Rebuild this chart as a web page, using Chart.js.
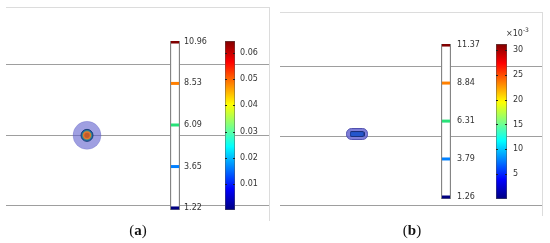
<!DOCTYPE html>
<html><head><meta charset="utf-8">
<script src="https://cdn.jsdelivr.net/npm/chart.js@4/dist/chart.umd.min.js"></script>
<style>
html,body{margin:0;padding:0;background:#fff;}
#wrap{position:relative;width:550px;height:243px;overflow:hidden;background:#fff;}
canvas{position:absolute;}
.cap{position:absolute;top:222px;width:40px;text-align:center;font:15px/17px "Liberation Serif",serif;color:#111;}
.exp{position:absolute;left:506px;top:28px;font:8px/12px "DejaVu Sans",sans-serif;color:#333;white-space:nowrap;}
.exp sup{font-size:6px;vertical-align:baseline;position:relative;top:-4px;}
</style></head><body>
<div id="wrap">
  <canvas id="mainA" width="275" height="225" style="left:0;top:0"></canvas>
  <canvas id="mainB" width="275" height="225" style="left:275px;top:0"></canvas>
  <canvas id="levA" width="60" height="190" style="left:160px;top:30px"></canvas>
  <canvas id="cbA" width="55" height="190" style="left:215px;top:30px"></canvas>
  <canvas id="levB" width="60" height="175" style="left:431px;top:34px"></canvas>
  <canvas id="cbB" width="50" height="175" style="left:486px;top:34px"></canvas>
  <div class="cap" style="left:118px">(<b>a</b>)</div>
  <div class="cap" style="left:392px">(<b>b</b>)</div>
  <div class="exp">×10<sup>-3</sup></div>
</div>
<script>
// ---------------- data ----------------
const guideLines = [1, 2, 3];                 // horizontal reference lines (domain units)
const domainRangeA = [0.80, 3.82];
const domainRangeB = [0.87, 3.79];
const blobA = [{x: 0.308, y: 2}];            // particle position, panel (a)
const blobB = [{x: 0.294, y: 2.035}];        // particle position, panel (b)
const levelsA = [1.22, 3.65, 6.09, 8.53, 10.96];
const levelsB = [1.26, 3.79, 6.31, 8.84, 11.37];
const levelRangeA = [1.10, 11.02];
const levelRangeB = [1.127, 11.44];
const colorTicksA = [0.01, 0.02, 0.03, 0.04, 0.05, 0.06];
const colorRangeA = [0, 0.0646];
const colorTicksB = [5, 10, 15, 20, 25, 30];  // ×10^-3
const colorRangeB = [0, 31.2];

// ---------------- helpers ----------------
Chart.defaults.animation = false;
Chart.defaults.font.family = '"DejaVu Sans", sans-serif';
Chart.defaults.font.size = 8;
Chart.defaults.color = '#333';
Chart.defaults.plugins.legend.display = false;
Chart.defaults.plugins.tooltip.enabled = false;

function clamp(v){ return Math.max(0, Math.min(1, v)); }
function jet(t){
  const r = clamp(1.5 - Math.abs(4*t - 3));
  const g = clamp(1.5 - Math.abs(4*t - 2));
  const b = clamp(1.5 - Math.abs(4*t - 1));
  return `rgb(${Math.round(r*255)},${Math.round(g*255)},${Math.round(b*255)})`;
}
function levelColor(t){
  // contour level colours (slightly more saturated in the middle)
  if (Math.abs(t - 0.5) < 0.01) return 'rgb(40,225,120)';
  return jet(t);
}
function shapeImg(w, h, rad, fill, stroke, lw){
  const c = document.createElement('canvas');
  c.width = w; c.height = h;
  const x = c.getContext('2d');
  x.beginPath();
  x.roundRect(lw/2, lw/2, w - lw, h - lw, rad);
  x.fillStyle = fill; x.fill();
  x.lineWidth = lw; x.strokeStyle = stroke; x.stroke();
  return c;
}

function mainChart(id, range, blob, pad, layers){
  return new Chart(document.getElementById(id), {
    type: 'scatter',
    data: { datasets: layers.map((l, i) => Object.assign({ data: blob, order: 10 - i, clip: false }, l)) },
    options: {
      responsive: false,
      layout: { padding: pad, autoPadding: false },
      scales: {
        x: { type: 'linear', position: 'top', min: 0, max: 1,
             ticks: { display: false }, grid: { display: false, drawTicks: false },
             border: { display: true, color: '#dcdcdc', width: 1 },
             afterFit: s => { s.height = 0; s.paddingLeft = s.paddingRight = 0; } },
        y: { type: 'linear', position: 'right', min: range[0], max: range[1],
             afterBuildTicks: s => { s.ticks = guideLines.map(v => ({ value: v })); },
             ticks: { display: false },
             grid: { color: '#9e9e9e', lineWidth: 1, drawTicks: false },
             border: { display: true, color: '#dcdcdc', width: 1 },
             afterFit: s => { s.width = 0; s.paddingTop = s.paddingBottom = 0; } }
      }
    }
  });
}

mainChart('mainA', domainRangeA, blobA, { left: 6, top: 7, right: 6, bottom: 5 }, [
  { pointRadius: 14, backgroundColor: 'rgba(95,95,205,0.6)', borderColor: 'rgba(90,90,190,0.5)', borderWidth: 0.5 },
  { pointRadius: 6, backgroundColor: '#1f5ea6', borderColor: '#1a3f7a', borderWidth: 1 },
  { pointRadius: 4.6, backgroundColor: '#e2772e', borderColor: '#2a9a8a', borderWidth: 0.8 },
  { pointRadius: 2.6, backgroundColor: '#c25a2a', borderColor: '#c25a2a', borderWidth: 0 }
]);

mainChart('mainB', domainRangeB, blobB, { left: 5, top: 12, right: 8, bottom: 10 }, [
  { pointStyle: shapeImg(22, 12, 5, 'rgba(105,105,210,0.85)', 'rgba(70,70,170,0.9)', 1), pointRadius: 11 },
  { pointStyle: shapeImg(15, 6, 1.5, '#2456cc', '#1b2f7a', 1), pointRadius: 7 }
]);

function levelBar(id, levels, range, pad, axisW, labelPad){
  const lo = levels[0], hi = levels[levels.length - 1];
  return new Chart(document.getElementById(id), {
    type: 'bar',
    data: { labels: ['L'], datasets: [
      { type: 'line', data: levels.map(v => ({ x: 'L', y: v })), showLine: false,
        pointStyle: 'line', pointRadius: 4, pointBorderWidth: 3,
        pointBorderColor: levels.map(v => levelColor((v - lo) / (hi - lo))), clip: 0, order: 0 },
      { type: 'bar', data: [[range[0], range[1]]], backgroundColor: '#fff',
        borderColor: '#858585', borderWidth: 1.5, borderSkipped: false,
        barPercentage: 1, categoryPercentage: 1, order: 1 }
    ]},
    options: {
      responsive: false,
      layout: { padding: pad, autoPadding: false },
      scales: {
        x: { display: false },
        y: { position: 'right', min: range[0], max: range[1],
             afterBuildTicks: s => { s.ticks = levels.map(v => ({ value: v })); },
             ticks: { padding: labelPad, callback: v => Number(v).toFixed(2) },
             grid: { display: false, drawTicks: false }, border: { display: false },
             afterFit: s => { s.width = axisW; s.paddingTop = s.paddingBottom = 0; } }
      }
    }
  });
}
levelBar('levA', levelsA, levelRangeA, { left: 10, top: 11, right: 0, bottom: 10 }, 40, 4);
levelBar('levB', levelsB, levelRangeB, { left: 10, top: 10, right: 0, bottom: 10 }, 40, 6);

const tickMarks = {
  id: 'tickMarks',
  afterDatasetsDraw(chart){
    const y = chart.scales.y, a = chart.chartArea, c = chart.ctx;
    c.save();
    c.strokeStyle = '#222'; c.lineWidth = 1;
    y.ticks.forEach(t => {
      const p = Math.round(y.getPixelForValue(t.value)) + 0.5;
      c.beginPath();
      c.moveTo(a.left, p); c.lineTo(a.left + 2, p);
      c.moveTo(a.right - 2, p); c.lineTo(a.right, p);
      c.stroke();
    });
    c.restore();
  }
};

function colorBar(id, ticks, range, pad, axisW, labelPad, fmt){
  return new Chart(document.getElementById(id), {
    type: 'bar',
    data: { labels: ['C'], datasets: [
      { data: [[range[0], range[1]]],
        backgroundColor: ctx => {
          const ch = ctx.chart; if (!ch.chartArea) return '#00f';
          const ys = ch.scales.y;
          const g = ch.ctx.createLinearGradient(0, ys.getPixelForValue(range[0]), 0, ys.getPixelForValue(range[1]));
          for (let i = 0; i <= 16; i++) g.addColorStop(i / 16, jet(i / 16));
          return g;
        },
        borderColor: '#555', borderWidth: 0.8, borderSkipped: false,
        barPercentage: 1, categoryPercentage: 1 }
    ]},
    options: {
      responsive: false,
      layout: { padding: pad, autoPadding: false },
      scales: {
        x: { display: false },
        y: { position: 'right', min: range[0], max: range[1],
             afterBuildTicks: s => { s.ticks = ticks.map(v => ({ value: v })); },
             ticks: { padding: labelPad, callback: fmt },
             grid: { display: false, drawTicks: false }, border: { display: false },
             afterFit: s => { s.width = axisW; s.paddingTop = s.paddingBottom = 0; } }
      }
    },
    plugins: [tickMarks]
  });
}
colorBar('cbA', colorTicksA, colorRangeA, { left: 10, top: 11, right: 0, bottom: 10 }, 35, 5, v => Number(v).toFixed(2));
colorBar('cbB', colorTicksB, colorRangeB, { left: 10, top: 10, right: 0, bottom: 10 }, 29, 6, v => String(v));
</script>
</body></html>
